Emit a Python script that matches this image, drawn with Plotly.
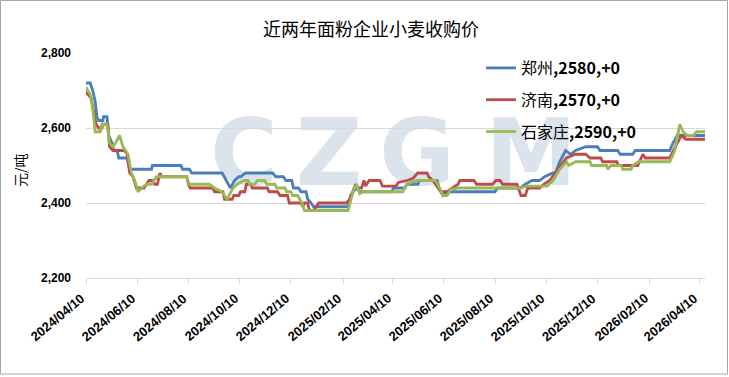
import plotly.graph_objects as go

# ---------------- data ----------------
zz_dates = ["2024-04-10","2024-04-15","2024-04-18","2024-04-21","2024-04-23","2024-04-25","2024-04-30","2024-05-01","2024-05-05","2024-05-07","2024-05-11","2024-05-13","2024-05-17","2024-05-19","2024-05-29","2024-06-01","2024-06-27","2024-06-28","2024-08-01","2024-08-03","2024-08-11","2024-08-14","2024-09-19","2024-09-26","2024-09-29","2024-10-04","2024-10-09","2024-10-11","2024-10-17","2024-11-18","2024-11-22","2024-12-01","2024-12-04","2024-12-11","2024-12-13","2024-12-19","2024-12-22","2024-12-28","2024-12-30","2025-01-03","2025-01-06","2025-02-16","2025-02-19","2025-02-26","2025-03-02","2025-04-09","2025-04-11","2025-04-25","2025-04-27","2025-05-10","2025-05-12","2025-06-02","2025-06-05","2025-06-09","2025-06-14","2025-08-10","2025-08-13","2025-09-09","2025-09-15","2025-09-23","2025-10-02","2025-10-08","2025-10-18","2025-10-21","2025-10-26","2025-11-02","2025-11-08","2025-11-14","2025-11-26","2025-12-10","2025-12-13","2026-01-03","2026-01-06","2026-01-21","2026-01-24","2026-03-06","2026-03-10","2026-03-15","2026-04-17"]
zz_vals = [2720,2720,2700,2670,2630,2620,2620,2630,2630,2580,2560,2540,2540,2520,2520,2490,2490,2500,2500,2490,2490,2480,2480,2450,2440,2460,2470,2470,2480,2480,2470,2470,2460,2460,2440,2440,2430,2430,2410,2400,2390,2390,2420,2440,2430,2430,2440,2440,2450,2450,2460,2460,2435,2420,2430,2430,2440,2440,2450,2460,2460,2470,2480,2480,2510,2540,2530,2540,2550,2550,2540,2540,2530,2530,2540,2540,2560,2580,2580]

jn_dates = ["2024-04-10","2024-04-12","2024-04-16","2024-04-19","2024-04-22","2024-04-25","2024-04-29","2024-04-30","2024-05-06","2024-05-08","2024-05-12","2024-05-26","2024-05-29","2024-06-01","2024-06-05","2024-06-09","2024-06-18","2024-06-21","2024-06-24","2024-06-28","2024-07-01","2024-07-04","2024-07-07","2024-07-09","2024-08-08","2024-08-10","2024-08-12","2024-09-08","2024-09-10","2024-09-20","2024-09-22","2024-10-01","2024-10-03","2024-10-09","2024-10-11","2024-10-16","2024-10-18","2024-10-23","2024-10-25","2024-11-12","2024-11-14","2024-11-24","2024-11-27","2024-12-06","2024-12-08","2024-12-22","2024-12-24","2024-12-26","2024-12-30","2025-01-01","2025-01-06","2025-01-09","2025-01-12","2025-02-14","2025-02-18","2025-02-25","2025-02-28","2025-03-04","2025-03-07","2025-03-09","2025-03-13","2025-03-26","2025-03-29","2025-04-14","2025-04-17","2025-04-27","2025-05-04","2025-05-10","2025-05-21","2025-05-23","2025-05-28","2025-06-03","2025-06-07","2025-06-14","2025-06-20","2025-06-27","2025-06-29","2025-07-16","2025-07-19","2025-08-07","2025-08-11","2025-08-16","2025-08-19","2025-09-05","2025-09-10","2025-09-15","2025-09-18","2025-10-02","2025-10-07","2025-10-14","2025-10-24","2025-11-03","2025-11-14","2025-11-26","2025-12-01","2025-12-14","2025-12-16","2026-01-02","2026-01-04","2026-01-27","2026-01-31","2026-02-02","2026-02-05","2026-03-06","2026-03-15","2026-03-20","2026-03-25","2026-04-17"]
jn_vals = [2700,2690,2680,2640,2610,2600,2600,2610,2610,2550,2540,2540,2530,2480,2470,2440,2440,2450,2460,2460,2450,2450,2480,2470,2470,2450,2440,2440,2430,2430,2410,2410,2420,2420,2430,2430,2450,2450,2440,2440,2430,2430,2420,2420,2400,2400,2390,2400,2400,2380,2380,2390,2400,2400,2410,2450,2440,2440,2460,2445,2460,2460,2445,2445,2455,2460,2465,2480,2480,2470,2460,2440,2430,2430,2440,2450,2460,2460,2450,2450,2460,2460,2450,2450,2420,2420,2440,2440,2450,2460,2490,2520,2530,2530,2520,2520,2510,2510,2500,2500,2520,2530,2520,2520,2560,2580,2570,2570]

sjz_dates = ["2024-04-10","2024-04-12","2024-04-15","2024-04-18","2024-04-21","2024-04-27","2024-04-29","2024-05-05","2024-05-08","2024-05-12","2024-05-15","2024-05-20","2024-05-24","2024-05-30","2024-06-03","2024-06-07","2024-06-11","2024-06-15","2024-06-21","2024-06-27","2024-07-03","2024-08-08","2024-08-11","2024-09-04","2024-09-10","2024-09-19","2024-09-25","2024-10-02","2024-10-07","2024-10-15","2024-10-20","2024-10-22","2024-10-28","2024-10-31","2024-11-09","2024-11-11","2024-11-21","2024-11-23","2024-12-03","2024-12-05","2024-12-10","2024-12-12","2024-12-18","2024-12-21","2024-12-23","2024-12-26","2025-02-16","2025-02-22","2025-02-26","2025-03-02","2025-03-06","2025-04-22","2025-04-27","2025-05-09","2025-05-31","2025-06-05","2025-06-09","2025-06-14","2025-06-18","2025-06-26","2025-09-09","2025-09-17","2025-10-11","2025-10-18","2025-10-26","2025-11-03","2025-11-06","2025-11-14","2025-12-01","2025-12-03","2025-12-21","2025-12-22","2025-12-26","2026-01-07","2026-01-09","2026-01-19","2026-01-21","2026-01-28","2026-03-06","2026-03-12","2026-03-18","2026-03-22","2026-03-27","2026-04-03","2026-04-07","2026-04-17"]
sjz_vals = [2710,2700,2690,2650,2590,2590,2610,2610,2560,2550,2560,2580,2550,2530,2480,2460,2430,2440,2450,2450,2470,2470,2450,2450,2440,2430,2410,2440,2450,2460,2460,2450,2450,2460,2460,2450,2450,2440,2440,2430,2430,2420,2420,2410,2400,2380,2380,2430,2450,2425,2430,2430,2450,2460,2460,2440,2420,2420,2435,2440,2440,2445,2445,2460,2490,2510,2500,2510,2510,2500,2500,2490,2500,2500,2490,2490,2500,2510,2510,2540,2610,2590,2580,2580,2590,2590]

cities = ["郑州", "济南", "石家庄"]
colors = ["#4a7ebb", "#be4b48", "#98b954"]
x_ticks = ["2024-04-10","2024-06-10","2024-08-10","2024-10-10","2024-12-10","2025-02-10","2025-04-10",
           "2025-06-10","2025-08-10","2025-10-10","2025-12-10","2026-02-10","2026-04-10"]
x_tick_labels = [t.replace("-", "/") for t in x_ticks]
y_ticks = [2200, 2400, 2600, 2800]
title_text = "近两年面粉企业小麦收购价"
y_title = "元/吨"
watermark = "CZGM"

series = [(zz_dates, zz_vals), (jn_dates, jn_vals), (sjz_dates, sjz_vals)]

fig = go.Figure()
for city, (d, v), c in zip(cities, series, colors):
    chg = v[-1] - v[-2]
    label = f"{city}<b>,{v[-1]},{'+' if chg >= 0 else ''}{chg}</b>"
    fig.add_trace(go.Scatter(x=d, y=v, mode="lines", name=label, legendgroup=city,
                             line=dict(color=c, width=2.8)))

W, H = 729, 377
L, R, T, B = 86, 24, 53, 99
pw, ph = W - L - R, H - T - B

def px(xp):
    return (xp - L) / pw

def py(yp):
    return (H - B - yp) / ph

# watermark letters, one shape each, centred on the letter positions of the reference
wm_centres = [244, 329, 417, 531]
wm_shapes = []
for ch, cxp in zip(watermark, wm_centres):
    wm_shapes.append(dict(type="rect", xref="paper", yref="paper",
                          x0=px(cxp - 40), x1=px(cxp + 40), y0=py(175), y1=py(117),
                          line=dict(width=0), fillcolor="rgba(0,0,0,0)", layer="below",
                          label=dict(text=ch, textposition="middle center",
                                     font=dict(family="DejaVu Sans", size=92,
                                               color="#dbe3ed", weight="bold"))))

# rotated date labels under the axis (anchored by their top-right corner at each tick)
x_label_annots = [dict(text=f"<b>{lab}</b>", x=t, xref="x", y=py(288), yref="paper",
                       textangle=-40, showarrow=False, xanchor="right", yanchor="top",
                       xshift=4, font=dict(family="Liberation Sans", size=13, color="#000000"))
                  for t, lab in zip(x_ticks, x_tick_labels)]

fig.update_layout(
    width=W, height=H,
    margin=dict(l=L, r=R, t=T, b=B, autoexpand=False),
    paper_bgcolor="white", plot_bgcolor="white",
    title=dict(text=title_text, x=371 / W, xref="container", xanchor="center",
               y=1 - 30 / H, yref="container", yanchor="middle",
               font=dict(family="Noto Sans CJK SC", size=18, color="#000000")),
    showlegend=True,
    legend=dict(x=px(481), xanchor="left", y=py(51), yanchor="top",
                bgcolor="rgba(0,0,0,0)", borderwidth=0,
                tracegroupgap=8, traceorder="grouped", itemwidth=30,
                font=dict(family="Noto Sans CJK SC", size=16, color="#000000")),
    xaxis=dict(type="date", range=["2024-04-10", "2026-04-17"],
               tickvals=x_ticks, showticklabels=False,
               automargin=False, showgrid=False, showline=True,
               linecolor="#d9d9d9", linewidth=1,
               ticks="outside", ticklen=5, tickcolor="#d9d9d9", zeroline=False),
    yaxis=dict(range=[2200, 2800], tickvals=y_ticks, tickformat=",", automargin=False,
               showgrid=True, gridcolor="#d9d9d9", gridwidth=1, showline=False,
               ticks="", ticklabelstandoff=14, zeroline=False,
               tickfont=dict(family="Liberation Sans", size=12, color="#000000", weight="bold")),
    annotations=[dict(text=y_title, xref="paper", yref="paper", x=px(20), y=py(170),
                      textangle=-90, showarrow=False, xanchor="center", yanchor="middle",
                      font=dict(family="Noto Sans CJK SC", size=14, color="#000000"))]
                + x_label_annots,
    shapes=wm_shapes + [
        dict(type="rect", xref="paper", yref="paper", x0=px(0.5), x1=px(727.5), y0=py(374), y1=py(0.5),
             line=dict(color="#a6a6a6", width=1), fillcolor="rgba(0,0,0,0)", layer="above"),
    ],
)

fig.write_html("out.html")
